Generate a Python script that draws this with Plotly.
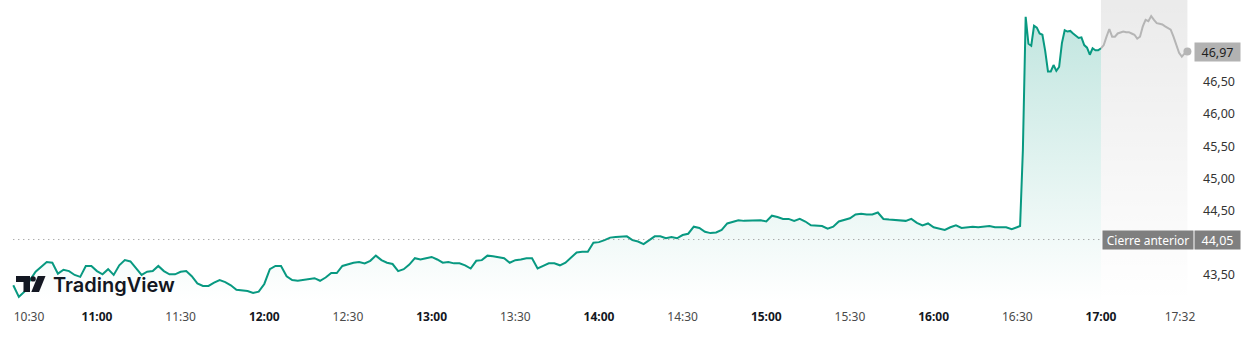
import pandas as pd
import plotly.graph_objects as go

# ---- data (prices in EUR) ----
# 10:30 -> 16:30, every 2 minutes
prices_2min = [
    43.34, 43.16, 43.24, 43.42, 43.55, 43.62, 43.70, 43.69, 43.52, 43.58,
    43.56, 43.50, 43.47, 43.64, 43.64, 43.56, 43.51, 43.59, 43.50, 43.65,
    43.73, 43.71, 43.61, 43.50, 43.55, 43.56, 43.64, 43.56, 43.51, 43.51,
    43.55, 43.56, 43.48, 43.37, 43.33, 43.33, 43.38, 43.42, 43.39, 43.34,
    43.27, 43.26, 43.25, 43.22, 43.24, 43.36, 43.59, 43.64, 43.64, 43.48,
    43.42, 43.41, 43.42, 43.44, 43.45, 43.41, 43.46, 43.53, 43.53, 43.64,
    43.67, 43.69, 43.70, 43.68, 43.72, 43.80, 43.73, 43.69, 43.67, 43.56,
    43.59, 43.66, 43.76, 43.74, 43.76, 43.78, 43.74, 43.69, 43.70, 43.68,
    43.68, 43.65, 43.60, 43.72, 43.73, 43.80, 43.79, 43.78, 43.76, 43.69,
    43.73, 43.74, 43.76, 43.76, 43.60, 43.64, 43.68, 43.68, 43.65, 43.69,
    43.77, 43.85, 43.86, 43.86, 44.00, 44.01, 44.04, 44.08, 44.09, 44.10,
    44.10, 44.04, 44.02, 43.98, 44.04, 44.10, 44.10, 44.07, 44.09, 44.07,
    44.12, 44.14, 44.25, 44.23, 44.17, 44.15, 44.16, 44.20, 44.30, 44.32,
    44.35, 44.34, 44.34, 44.35, 44.35, 44.33, 44.42, 44.40, 44.37, 44.37,
    44.34, 44.37, 44.33, 44.27, 44.27, 44.26, 44.22, 44.25, 44.33, 44.36,
    44.38, 44.44, 44.45, 44.44, 44.44, 44.47, 44.37, 44.36, 44.35, 44.34,
    44.34, 44.37, 44.31, 44.27, 44.30, 44.24, 44.22, 44.20, 44.24, 44.27,
    44.23, 44.24, 44.25, 44.24, 44.25, 44.26, 44.24, 44.24, 44.24, 44.21,
    44.25,
]
# 16:31 -> 17:31, every minute
prices_1min = [
    44.26, 45.44, 47.51, 47.09, 47.06, 47.37, 47.34, 47.25, 47.23, 46.98,
    46.66, 46.66, 46.76, 46.67, 46.73, 47.10, 47.30, 47.28, 47.29, 47.25,
    47.22, 47.18, 47.19, 47.07, 47.03, 46.92, 47.02, 46.99, 46.99, 47.02,
    47.07, 47.20, 47.32, 47.20, 47.20, 47.25, 47.27, 47.28, 47.27, 47.27,
    47.25, 47.23, 47.17, 47.20, 47.36, 47.46, 47.44, 47.52, 47.46, 47.41,
    47.40, 47.39, 47.36, 47.34, 47.31, 47.20, 47.08, 46.95, 46.89, 46.94,
    46.97,
]
prev_close = 44.05
last_price = 46.97
prev_close_label = "Cierre anterior"

y_tick_vals = [43.5, 44.5, 45.0, 45.5, 46.0, 46.5]
y_tick_text = ["43,50", "44,50", "45,00", "45,50", "46,00", "46,50"]

x_tick_times = ["10:35:38", "11:00", "11:30", "12:00", "12:30", "13:00", "13:30",
                "14:00", "14:30", "15:00", "15:30", "16:00", "16:30", "17:00", "17:28:20"]
x_tick_text = ["10:30", "11:00", "11:30", "12:00", "12:30", "13:00", "13:30",
               "14:00", "14:30", "15:00", "15:30", "16:00", "16:30", "17:00", "17:32"]

DAY = "2024-01-01 "
t_a = pd.date_range(DAY + "10:30", DAY + "16:30", freq="2min")
t_b = pd.date_range(DAY + "16:31", DAY + "17:31", freq="1min")
times = list(t_a) + list(t_b)
prices = prices_2min + prices_1min
session_end = pd.Timestamp(DAY + "17:00")
i_end = times.index(session_end)
reg_t, reg_p = times[: i_end + 1], prices[: i_end + 1]
ext_t, ext_p = times[i_end:], prices[i_end:]

GREEN = "#089981"
GREY_LINE = "#b5b5b5"
Y0, Y1 = 43.08, 47.77
X0, X1 = DAY + "10:25:14", DAY + "17:33:00"

# plot-area pixel helpers (for logo / labels placement)
PW, PH = 1193, 302


def px(x):
    return x / PW


def py(y):
    return 1 - y / PH


fig = go.Figure()

# extended-hours shaded band
fig.add_trace(go.Scatter(
    x=[session_end, ext_t[-1]], y=[Y1, Y1], mode="lines", line=dict(width=0),
    fill="tozeroy",
    fillgradient=dict(type="vertical", start=Y0, stop=Y1,
                      colorscale=[[0, "rgba(0,0,0,0.0)"], [1, "rgba(0,0,0,0.08)"]]),
    hoverinfo="skip", showlegend=False,
))

# regular session
fig.add_trace(go.Scatter(
    x=reg_t, y=reg_p, mode="lines", line=dict(color=GREEN, width=2),
    fill="tozeroy",
    fillgradient=dict(type="vertical", start=Y0, stop=47.5,
                      colorscale=[[0, "rgba(8,153,129,0.0)"], [1, "rgba(8,153,129,0.25)"]]),
    hoverinfo="skip", showlegend=False,
))

# extended session line
fig.add_trace(go.Scatter(
    x=ext_t, y=ext_p, mode="lines", line=dict(color=GREY_LINE, width=2),
    hoverinfo="skip", showlegend=False,
))
fig.add_trace(go.Scatter(
    x=[ext_t[-1]], y=[ext_p[-1]], mode="markers",
    marker=dict(color=GREY_LINE, size=8), hoverinfo="skip", showlegend=False,
))

# previous close dotted line
fig.add_shape(type="line", xref="x", yref="y", x0=times[0], x1=session_end,
              y0=prev_close, y1=prev_close,
              line=dict(color="#8a8a8a", width=1, dash="1px,4px"))

# TradingView logo mark
logo_col = "#131722"
fig.add_shape(type="path", xref="paper", yref="paper",
              path=f"M{px(16)},{py(276)} L{px(30)},{py(276)} L{px(30)},{py(292)} "
                   f"L{px(23.5)},{py(292)} L{px(23.5)},{py(282)} L{px(16)},{py(282)} Z",
              fillcolor=logo_col, line=dict(width=0))
fig.add_shape(type="circle", xref="paper", yref="paper",
              x0=px(30.4), x1=px(35.8), y0=py(276.2), y1=py(281.6),
              fillcolor=logo_col, line=dict(width=0))
fig.add_shape(type="path", xref="paper", yref="paper",
              path=f"M{px(37.8)},{py(276)} L{px(45.5)},{py(276)} L{px(39)},{py(292)} "
                   f"L{px(31.3)},{py(292)} Z",
              fillcolor=logo_col, line=dict(width=0))

annotations = [
    dict(text="TradingView", xref="paper", yref="paper", x=px(51), y=py(284.5),
         xanchor="left", yanchor="middle", showarrow=False,
         font=dict(family="Inter", size=20, color=logo_col, weight=600)),
    dict(text=f"{last_price:.2f}".replace(".", ","), xref="paper", yref="y",
         x=px(1217.5), y=last_price, xanchor="center", yanchor="middle",
         showarrow=False, bgcolor="#b2b2b2", width=45, height=18, borderpad=0,
         font=dict(family="Noto Sans", size=12.5, color="#1e1e1e")),
    dict(text=f"{prev_close:.2f}".replace(".", ","), xref="paper", yref="y",
         x=px(1217.5), y=prev_close, xanchor="center", yanchor="middle",
         showarrow=False, bgcolor="#7f7f7f", width=45, height=18, borderpad=0,
         font=dict(family="Noto Sans", size=12.5, color="#ffffff")),
    dict(text=prev_close_label, xref="paper", yref="y",
         x=px(1147.5), y=prev_close, xanchor="center", yanchor="middle",
         showarrow=False, bgcolor="#7f7f7f", width=90, height=18, borderpad=0,
         font=dict(family="Noto Sans", size=12, color="#ffffff")),
]

tick_labels = []
for t in x_tick_text:
    if t.endswith(":00"):
        tick_labels.append(f"<b><span style='color:#131722'>{t}</span></b>")
    else:
        tick_labels.append(f"<span style='color:#4a4a4a'>{t}</span>")

fig.update_layout(
    width=1258, height=340,
    margin=dict(l=0, r=1258 - PW, t=0, b=340 - PH),
    paper_bgcolor="white", plot_bgcolor="white",
    showlegend=False, annotations=annotations,
    xaxis=dict(range=[X0, X1], showgrid=False, zeroline=False, showline=False,
               tickvals=[pd.Timestamp(DAY + t) for t in x_tick_times],
               ticktext=tick_labels, ticks="", ticklabelstandoff=6,
               tickfont=dict(family="Noto Sans", size=12, color="#4a4a4a")),
    yaxis=dict(range=[Y0, Y1], side="right", showgrid=False, zeroline=False,
               showline=False, tickvals=y_tick_vals, ticktext=y_tick_text,
               ticks="", ticklabelstandoff=9,
               tickfont=dict(family="Noto Sans", size=12.5, color="#333333")),
)

fig.write_html("out.html")
